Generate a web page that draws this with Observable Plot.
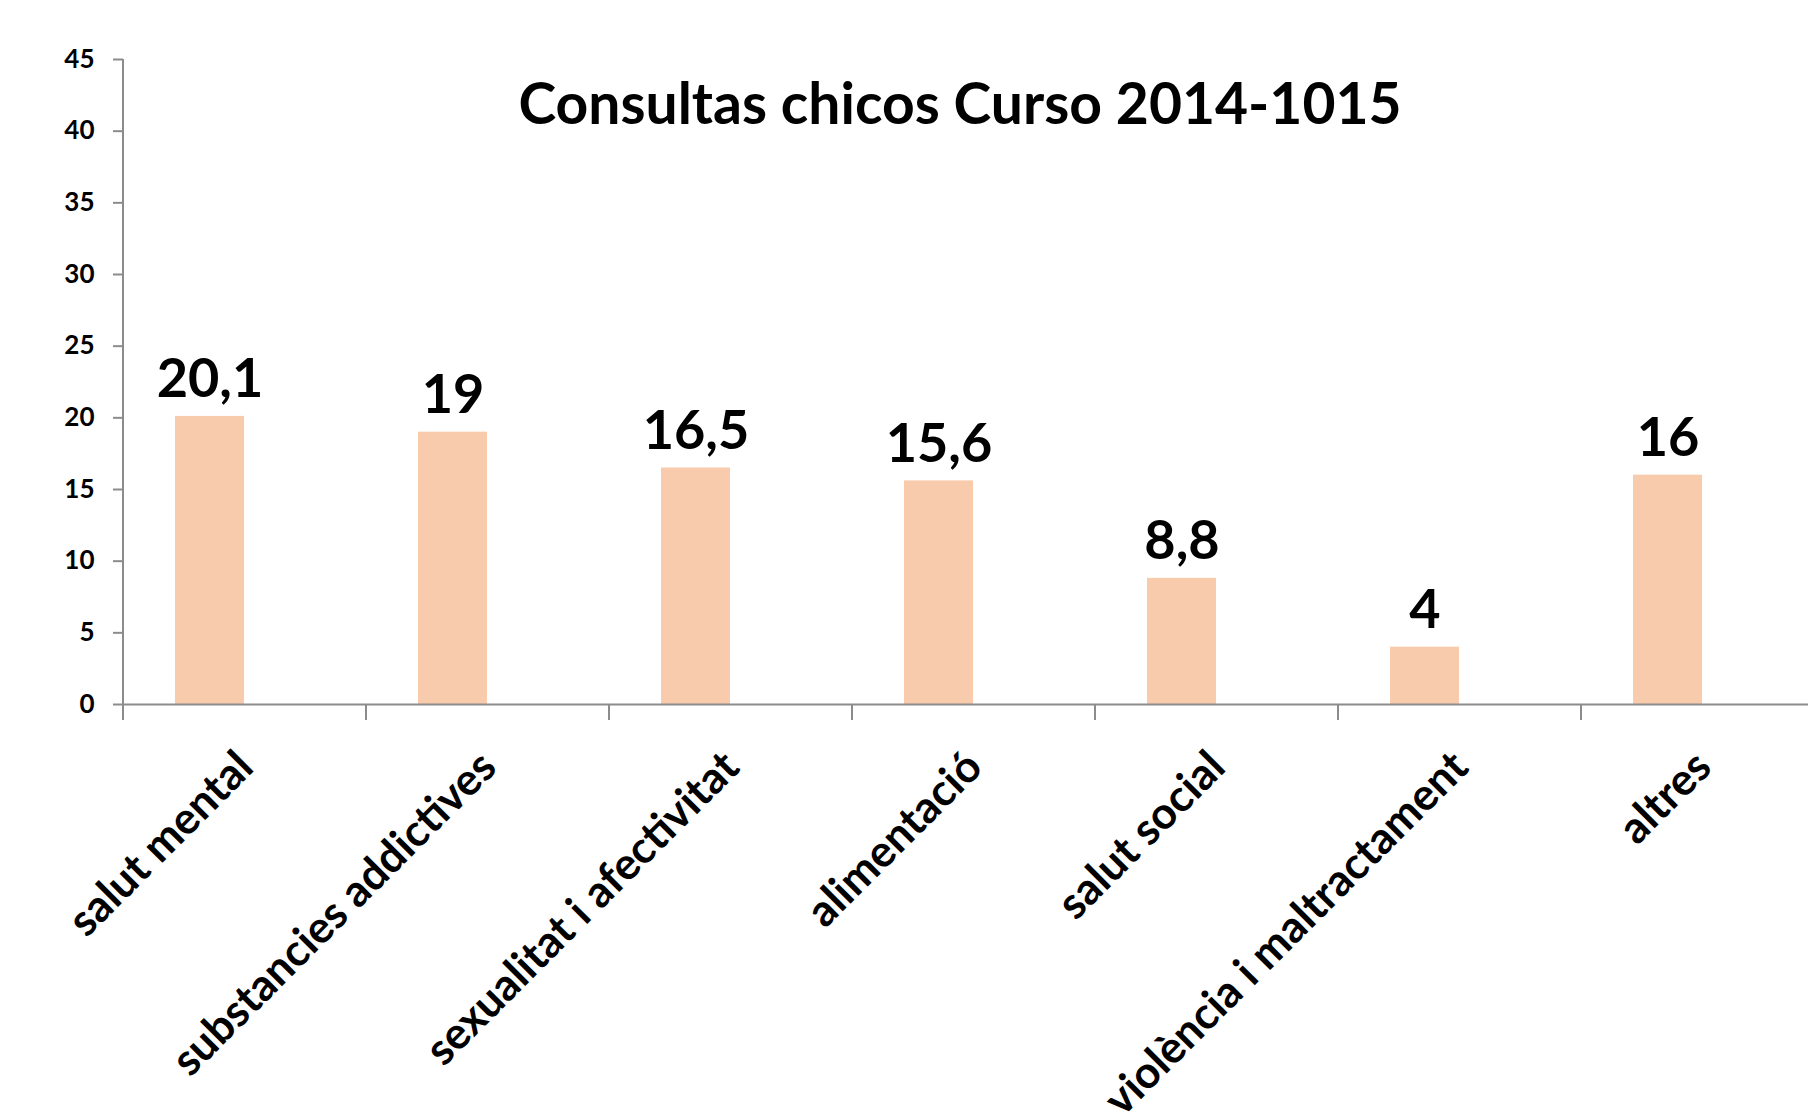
<!DOCTYPE html>
<html>
<head>
<meta charset="utf-8">
<script src="https://cdn.jsdelivr.net/npm/d3@7"></script>
<script src="https://cdn.jsdelivr.net/npm/@observablehq/plot@0.6"></script>
<style>
  html, body { margin: 0; padding: 0; background: #fff; overflow: hidden; }
  #chart svg { display: block; overflow: hidden; }
</style>
</head>
<body>
<div id="chart"></div>
<script>
const title = "Consultas chicos Curso 2014-1015";
const categories = [
  "salut mental",
  "substancies addictives",
  "sexualitat i afectivitat",
  "alimentació",
  "salut social",
  "violència i maltractament",
  "altres"
];
const values = [20.1, 19, 16.5, 15.6, 8.8, 4, 16];
const yTicks = [0, 5, 10, 15, 20, 25, 30, 35, 40, 45];

const data = categories.map((c, i) => ({category: c, value: values[i]}));
const fmt = v => String(v).replace(".", ",");
const axisGray = "#8c8c8c";
const barColor = "#F8CBAD";

const chart = Plot.plot({
  width: 1808,
  height: 1116,
  marginTop: 59,
  marginBottom: 412,
  marginLeft: 123,
  marginRight: 0,
  style: {fontFamily: "Lato, 'Open Sans', sans-serif", color: "black", background: "white"},
  x: {domain: categories, range: [123, 1824], paddingInner: 0.432, paddingOuter: 0.216, axis: null},
  y: {domain: [0, 45], axis: null},
  marks: [
    Plot.barY(data, {x: "category", y: "value", fill: barColor, insetRight: 69}),
    Plot.ruleY([0], {stroke: axisGray, strokeWidth: 2}),
    Plot.ruleX([categories[0]], {x: d => d, y1: 45, y2: 0, dx: -121.5, insetBottom: -16, stroke: axisGray, strokeWidth: 2}),
    Plot.ruleX(categories, {x: d => d, y1: 0, y2: 0, dx: -121.5, insetBottom: -16, stroke: axisGray, strokeWidth: 2}),
    Plot.axisY({ticks: yTicks, tickSize: 10, tickPadding: 19, stroke: axisGray, strokeWidth: 2,
      fill: "black", fontSize: 26, fontWeight: "bold", label: null, tickFormat: d => d}),
    Plot.text(data, {x: "category", y: "value", text: d => fmt(d.value), dx: -34.5, dy: -19,
      lineAnchor: "bottom", fontSize: 54, fontWeight: "bold", fill: "black"}),
    Plot.text(categories, {x: d => d, frameAnchor: "bottom", rotate: -45, textAnchor: "end",
      lineAnchor: "top", dy: 43, dx: -11, fontSize: 44, fontWeight: "bold", fill: "black"}),
    Plot.text([title], {frameAnchor: "top", lineAnchor: "bottom", dy: 64, dx: -6,
      fontSize: 57, fontWeight: "bold", fill: "black"})
  ]
});
document.getElementById("chart").appendChild(chart);
</script>
</body>
</html>
